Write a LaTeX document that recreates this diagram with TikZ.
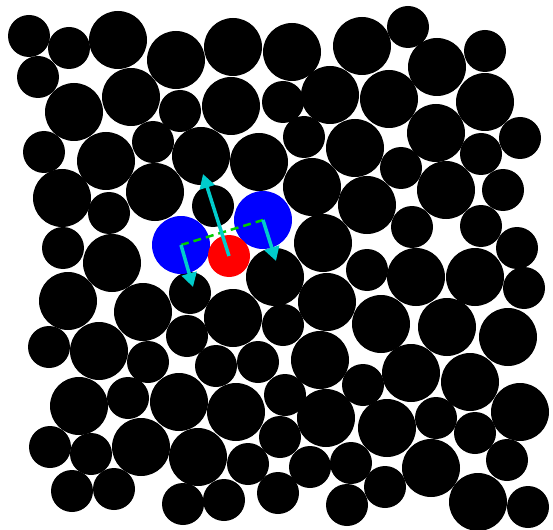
\documentclass[tikz,border=0pt]{standalone}
\usetikzlibrary{arrows.meta}
\definecolor{arrowcyan}{RGB}{0,204,204}
\definecolor{dashgreen}{RGB}{0,204,0}
\tikzset{
  grain/.style={fill=black},
  vec/.style={draw=arrowcyan, line width=3.5pt, -{Triangle[width=15pt,length=14pt]}},
  bond/.style={draw=dashgreen, line width=2.5pt, dash pattern=on 8pt off 5pt},
}
\begin{document}
\begin{tikzpicture}[x=1pt,y=-1pt]
\useasboundingbox (0,0) rectangle (553,529);
% small grains
\foreach \x/\y in {29/36,69/48,408/27,485/51,38/77,180/111,283/102,520/138,44/152,153/142,304/137,401/168,481/154,
  109/213,213/206,503/190,63/248,412/227,481/226,517/248,190/293,367/270,524/288,
  49/347,148/362,187/336,216/366,258/362,283/325,128/398,285/395,363/385,
  50/447,91/454,248/464,280/437,436/418,475/433,
  72/491,114/489,183/504,224/500,278/493,310/467,351/463,507/460,347/505,385/487,528/507}
  \fill[grain] (\x,\y) circle[radius=21];
% large grains
\foreach \x/\y in {118/40,176/60,233/47,292/52,362/46,437/67,
  74/112,131/97,231/106,330/95,389/99,436/133,485/102,
  106/161,201/156,259/162,355/148,62/198,155/192,312/187,367/205,446/190,
  112/263,323/243,68/301,143/312,233/318,275/277,327/302,416/277,475/277,
  99/351,320/360,381/324,447/327,508/337,
  79/406,179/402,236/412,411/373,470/382,520/412,
  141/447,198/457,326/418,387/428,431/468,478/502}
  \fill[grain] (\x,\y) circle[radius=29];
% highlighted grains
\coordinate (b1) at (181,245);
\coordinate (b2) at (263,220);
\coordinate (r) at (229,256);
\fill[blue] (b1) circle[radius=29];
\fill[blue] (b2) circle[radius=29];
\fill[red] (r) circle[radius=21];
% bond and vectors
\coordinate (t1) at (203,174);
\coordinate (t2) at (193,287);
\coordinate (t3) at (276,261);
\draw[bond] (b1) -- (b2);
\draw[vec] (r) -- (t1);
\draw[vec] (b1) -- (t2);
\draw[vec] (b2) -- (t3);
\end{tikzpicture}
\end{document}
